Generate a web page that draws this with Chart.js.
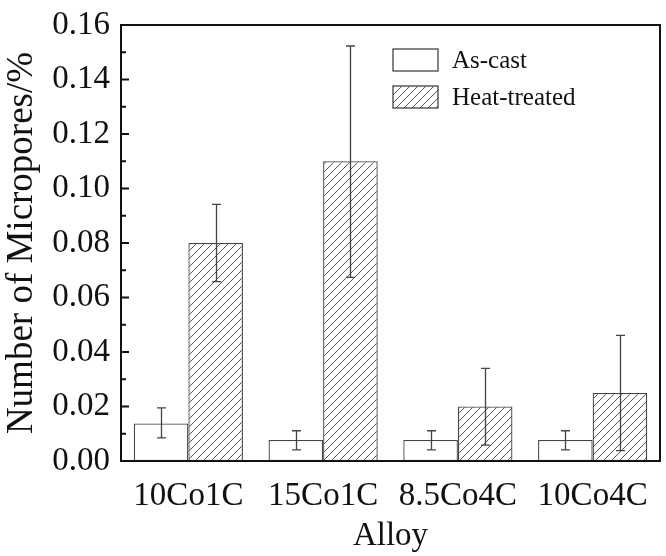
<!DOCTYPE html>
<html>
<head>
<meta charset="utf-8">
<script src="https://cdn.jsdelivr.net/npm/chart.js@4.4.1/dist/chart.umd.min.js"></script>
<style>
html,body{margin:0;padding:0;background:#fff;}
#wrap{width:666px;height:556px;}
</style>
</head>
<body>
<div id="wrap"><canvas id="c" width="666" height="556"></canvas></div>
<script>
const categories = ['10Co1C', '15Co1C', '8.5Co4C', '10Co4C'];
const seriesNames = ['As-cast', 'Heat-treated'];
const asCast = [0.0138, 0.0077, 0.0077, 0.0077];
const asCastErrLow = [0.0085, 0.0041, 0.0041, 0.0041];
const asCastErrHigh = [0.0195, 0.0111, 0.0111, 0.0111];
const heatTreated = [0.0800, 0.1100, 0.0200, 0.0250];
const heatErrLow = [0.0658, 0.0674, 0.0058, 0.0038];
const heatErrHigh = [0.0942, 0.1523, 0.0340, 0.0461];
const yTicks = [0, 0.02, 0.04, 0.06, 0.08, 0.10, 0.12, 0.14, 0.16];
const yMinorTicks = [0.01, 0.03, 0.05, 0.07, 0.09, 0.11, 0.13, 0.15];

const FONT = '"Liberation Serif", "Times New Roman", serif';

function makeHatch() {
  const s = 8;
  const pc = document.createElement('canvas');
  pc.width = s; pc.height = s;
  const p = pc.getContext('2d');
  p.fillStyle = '#fff';
  p.fillRect(0, 0, s, s);
  p.strokeStyle = '#555';
  p.lineWidth = 1;
  p.beginPath();
  p.moveTo(-1, s + 1); p.lineTo(s + 1, -1);
  p.moveTo(-1, 1); p.lineTo(1, -1);
  p.moveTo(s - 1, s + 1); p.lineTo(s + 1, s - 1);
  p.stroke();
  return document.getElementById('c').getContext('2d').createPattern(pc, 'repeat');
}
const hatch = makeHatch();

const errors = [[asCastErrLow, asCastErrHigh], [heatErrLow, heatErrHigh]];

const decor = {
  id: 'decor',
  afterDatasetsDraw(chart) {
    const ctx = chart.ctx;
    const ca = chart.chartArea;
    const ys = chart.scales.y;
    ctx.save();
    // error bars
    ctx.strokeStyle = '#444';
    ctx.lineWidth = 1.3;
    chart.data.datasets.forEach((ds, di) => {
      const meta = chart.getDatasetMeta(di);
      meta.data.forEach((bar, i) => {
        const x = Math.round(bar.x) + 0.5;
        const yl = ys.getPixelForValue(errors[di][0][i]);
        const yh = ys.getPixelForValue(errors[di][1][i]);
        ctx.beginPath();
        ctx.moveTo(x, yl); ctx.lineTo(x, yh);
        ctx.moveTo(x - 4.5, yl); ctx.lineTo(x + 4.5, yl);
        ctx.moveTo(x - 4.5, yh); ctx.lineTo(x + 4.5, yh);
        ctx.stroke();
      });
    });
    // frame
    ctx.strokeStyle = '#111';
    ctx.lineWidth = 2;
    ctx.strokeRect(ca.left, ca.top, ca.right - ca.left, ca.bottom - ca.top);
    // y ticks inward
    ctx.lineWidth = 1.8;
    ctx.beginPath();
    yTicks.forEach(v => {
      const y = ys.getPixelForValue(v);
      ctx.moveTo(ca.left, y); ctx.lineTo(ca.left + 8, y);
    });
    yMinorTicks.forEach(v => {
      const y = ys.getPixelForValue(v);
      ctx.moveTo(ca.left, y); ctx.lineTo(ca.left + 5, y);
    });
    ctx.stroke();
    // legend
    const lx = ca.left + 272, ly = ca.top + 24;
    const bw = 45, bh = 22, gap = 37;
    chart.data.datasets.forEach((ds, di) => {
      const y0 = ly + di * gap;
      ctx.fillStyle = ds.backgroundColor;
      ctx.fillRect(lx, y0, bw, bh);
      ctx.strokeStyle = '#444';
      ctx.lineWidth = 1.3;
      ctx.strokeRect(lx, y0, bw, bh);
      ctx.fillStyle = '#111';
      ctx.font = '25px ' + FONT;
      ctx.textBaseline = 'middle';
      ctx.textAlign = 'left';
      ctx.fillText(ds.label, lx + bw + 14, y0 + bh / 2 + 1);
    });
    ctx.restore();
  }
};

new Chart(document.getElementById('c'), {
  type: 'bar',
  data: {
    labels: categories,
    datasets: [
      {
        label: seriesNames[0],
        data: asCast,
        backgroundColor: '#ffffff',
        borderColor: '#444',
        borderWidth: 1.3,
        borderSkipped: false,
        categoryPercentage: 0.81,
        barPercentage: 1.0
      },
      {
        label: seriesNames[1],
        data: heatTreated,
        backgroundColor: hatch,
        borderColor: '#444',
        borderWidth: 1.3,
        borderSkipped: false,
        categoryPercentage: 0.81,
        barPercentage: 1.0
      }
    ]
  },
  options: {
    responsive: false,
    animation: false,
    devicePixelRatio: 1,
    layout: { padding: { left: 0, top: 25, right: 6, bottom: 0 } },
    plugins: { legend: { display: false }, tooltip: { enabled: false } },
    scales: {
      x: {
        grid: { display: false, drawTicks: false },
        border: { display: false },
        ticks: { color: '#111', font: { family: FONT, size: 33 }, padding: 16, maxRotation: 0, autoSkip: false },
        title: { display: true, text: 'Alloy', color: '#111', font: { family: FONT, size: 33 }, padding: { top: 6, bottom: 0 } },
        afterFit(scale) { scale.height = 95; scale.paddingLeft = 0; scale.paddingRight = 0; }
      },
      y: {
        min: 0, max: 0.16,
        grid: { display: false, drawTicks: false },
        border: { display: false },
        afterBuildTicks(scale) { scale.ticks = yTicks.map(v => ({ value: v })); },
        ticks: {
          color: '#111', font: { family: FONT, size: 33 }, padding: 11,
          callback: (v) => Number(v).toFixed(2)
        },
        title: { display: true, text: 'Number of Micropores/%', color: '#111', font: { family: FONT, size: 37 }, padding: { top: 0, bottom: 0 } },
        afterFit(scale) { scale.width = 121; scale.paddingTop = 0; scale.paddingBottom = 0; }
      }
    }
  },
  plugins: [decor]
});
</script>
</body>
</html>
